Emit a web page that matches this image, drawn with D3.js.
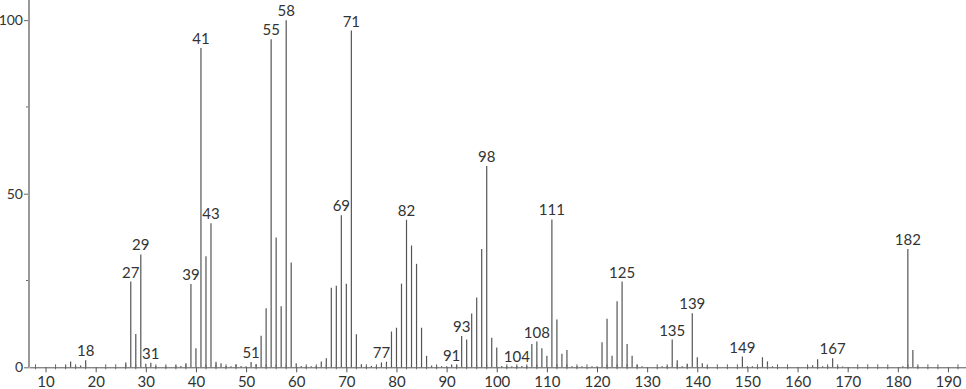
<!DOCTYPE html>
<html>
<head>
<meta charset="utf-8">
<script src="https://cdnjs.cloudflare.com/ajax/libs/d3/7.8.5/d3.min.js"></script>
<style>
  body { margin: 0; background: #fff; }
  svg text { font-family: "Lato", "DejaVu Sans", sans-serif; fill: #333; }
</style>
</head>
<body>
<svg></svg>
<script>
// Canvas
const width = 966;
const height = 389;

// Spectrum data: m/z and relative intensity
const masses = [14, 15, 16, 17, 18, 26, 27, 28, 29, 30, 31, 32, 34, 36, 37, 38,
    39, 40, 41, 42, 43, 44, 45, 46, 47, 48, 49, 50, 51, 52,
    53, 54, 55, 56, 57, 58, 59, 60, 61, 62, 63, 64, 65, 66, 67, 68, 69, 70, 71, 72, 73, 74, 75, 76,
    77, 78, 79, 80, 81, 82, 83, 84, 85, 86, 87, 88, 89, 90, 91, 92, 93, 94, 95, 96, 97, 98, 99, 100,
    101, 102, 103, 104, 105, 106, 107, 108, 109, 110, 111, 112, 113, 114, 115, 116, 117, 119, 120,
    121, 122, 123, 124, 125, 126, 127, 128, 129, 133, 134, 135, 136, 137, 138, 139, 140, 141, 142,
    149, 150, 151, 153, 154, 155, 162, 163, 164, 165, 166, 167, 168, 169, 181, 182, 183, 184];
const intensities = [0.5, 1.7, 0.3, 0.5, 2.0, 1.4, 24.7, 9.6, 32.5, 1.0, 1.3, 0.4, 0.3, 0.5, 0.4, 1.2,
    24, 5.5, 92, 32, 41.5, 1.6, 1.2, 0.4, 0.3, 0.8, 0.4, 0.3, 1.5, 0.9,
    9.1, 17, 94.5, 37.4, 17.6, 100, 30.2, 1.2, 0.4, 0.3, 0.3, 0.4, 1.7, 2.6, 22.9, 23.5, 43.8, 24.1, 97, 9.5, 0.9, 0.4, 0.4, 0.4,
    1.4, 1.6, 10.3, 11.4, 24.1, 42.5, 35.1, 29.8, 11.4, 3.3, 0.5, 0.4, 0.3, 0.3, 0.8, 0.7, 9.0, 8.0, 15.5, 20.1, 34.1, 58, 8.5, 5.7,
    0.4, 0.3, 0.3, 0.4, 0.4, 0.4, 6.7, 7.4, 5.5, 3.3, 42.6, 13.8, 3.9, 5.0, 0.3, 0.3, 0.3, 0.3, 0.3,
    7.2, 14.0, 3.3, 19.0, 24.7, 6.7, 3.3, 0.7, 0.3, 0.3, 0.4, 8.0, 2.0, 0.3, 1.0, 15.6, 2.9, 1.2, 0.3,
    3.1, 0.3, 0.3, 2.9, 1.7, 0.3, 0.4, 0.6, 2.3, 0.3, 0.3, 2.6, 0.3, 0.2, 0.3, 34.1, 5.0, 0.3];

// Peaks that carry a label
const labelled = [18, 27, 29, 31, 39, 41, 43, 51, 55, 58, 69, 71, 77, 82, 91, 93, 98, 104, 108, 111, 125, 135, 139, 149, 167, 182];

// Tick values
const xTicks = [10, 20, 30, 40, 50, 60, 70, 80, 90, 100, 110, 120, 130, 140, 150, 160, 170, 180, 190];
const xMinor = d3.range(8, 194, 2).filter(v => v % 10 !== 0);
const yTicks = [0, 50, 100];
const yMinor = [25, 75];

const peaks = masses.map((m, i) => ({ m: m, v: intensities[i] }));

const svg = d3.select("svg")
    .attr("width", width)
    .attr("height", height);

// Scales
const x = d3.scaleLinear()
    .domain([6.7, 193.6])
    .range([29, 966]);

const y = d3.scaleLinear()
    .domain([0, 105.8])
    .range([367.3, 0]);

// Bars (stick spectrum)
svg.append("g")
    .selectAll("line")
    .data(peaks)
    .enter()
    .append("line")
    .attr("x1", d => x(d.m))
    .attr("x2", d => x(d.m))
    .attr("y1", y(0))
    .attr("y2", d => y(d.v))
    .attr("stroke", "#555")
    .attr("stroke-width", 1.2);

// X axis
const xAxis = d3.axisBottom(x)
    .tickValues(xTicks)
    .tickSizeInner(5)
    .tickSizeOuter(0)
    .tickPadding(4);

const gx = svg.append("g")
    .attr("transform", `translate(0, ${y(0)})`)
    .call(xAxis);
gx.select(".domain").attr("stroke", "#555");
gx.selectAll(".tick line").attr("stroke", "#555");
gx.selectAll(".tick text")
    .attr("fill", "#333")
    .style("font-size", "15px");

// minor x ticks crossing the axis
svg.append("g")
    .selectAll("line")
    .data(xMinor)
    .enter()
    .append("line")
    .attr("x1", d => x(d))
    .attr("x2", d => x(d))
    .attr("y1", y(0) - 3)
    .attr("y2", y(0) + 2)
    .attr("stroke", "#666")
    .attr("stroke-width", 1);

// Y axis
const yAxis = d3.axisLeft(y)
    .tickValues(yTicks)
    .tickSizeInner(5)
    .tickSizeOuter(0)
    .tickPadding(1);

const gy = svg.append("g")
    .attr("transform", `translate(29, 0)`)
    .call(yAxis);
gy.select(".domain").remove();
gy.selectAll(".tick line").attr("stroke", "#666");
gy.selectAll(".tick text")
    .attr("fill", "#333")
    .style("font-size", "14px");

svg.append("g")
    .selectAll("line")
    .data(yMinor)
    .enter()
    .append("line")
    .attr("x1", 26)
    .attr("x2", 29)
    .attr("y1", d => y(d))
    .attr("y2", d => y(d))
    .attr("stroke", "#666");

svg.append("line")
    .attr("x1", 29)
    .attr("x2", 29)
    .attr("y1", 0)
    .attr("y2", y(0))
    .attr("stroke", "#999")
    .attr("stroke-width", 2);

// Peak labels
svg.append("g")
    .selectAll("text")
    .data(peaks.filter(d => labelled.includes(d.m)))
    .enter()
    .append("text")
    .attr("x", d => x(d.m))
    .attr("y", d => y(d.v) - 4)
    .attr("text-anchor", "middle")
    .style("font-size", "15px")
    .text(d => d.m);
</script>
</body>
</html>
